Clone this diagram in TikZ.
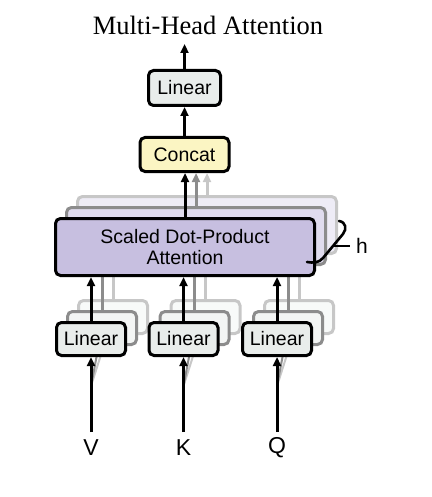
\documentclass[tikz,border=0pt]{standalone}
\usepackage{fontspec}
\setmainfont{Liberation Serif}
\setsansfont{Liberation Sans}
\usetikzlibrary{arrows.meta}

\definecolor{linfill}{HTML}{E9EDEB}
\definecolor{catfill}{HTML}{FBF5C3}
\definecolor{attfill}{HTML}{C7BFE0}

\begin{document}
\begin{tikzpicture}
[x=1pt,y=-1pt,%
  block/.style={shape=rectangle,rounded corners=5pt,draw,line width=3pt,inner sep=0pt,%
    font=\fontsize{19.5}{21.5}\sffamily},%
  linbox/.style={block,minimum width=69pt,minimum height=33pt},%
  flow/.style={line width=3pt,-{Triangle[length=9pt,width=8pt]}},%
  lbl/.style={font=\fontsize{23}{25}\sffamily,inner sep=0pt}]
\useasboundingbox (0,0) rectangle (431,497);

\node[font=\fontsize{26.5}{28}\selectfont\rmfamily] (title) at (208,25) {Multi-Head Attention};

% inputs
\foreach \inp/\xx/\txt in {v/91/V,k/183.5/K,q/277/Q} {
  \coordinate (src-\inp) at (\xx,432);
  \coordinate (fan-\inp) at (\xx,386);
  \node[lbl] (in-\inp) at (\xx,448) {\txt};
}

% h stacked heads, back to front
\foreach \k/\dx/\col/\shade in {3/22/black!22/30,2/11/black!45/55,1/0/black/100} {
  \foreach \inp/\xx in {v/91,k/183.5,q/277} {
    \ifnum\k>1
      \draw[\col,line width=2pt] (fan-\inp) -- (\xx+\dx,339-\dx);
    \fi
    \node[linbox,draw=\col,fill=linfill!\shade!white] (lin-\inp-\k) at (\xx+\dx,339-\dx)
      {\ifnum\k=1 Linear\fi};
  }
  \node[block,draw=\col,fill=attfill!\shade!white,minimum width=259pt,minimum height=57pt,align=center]
    (attn-\k) at (185+\dx,247-\dx) {\ifnum\k=1 Scaled Dot-Product\\Attention\fi};
  \foreach \inp in {v,k,q}
    \draw[flow,\col] (lin-\inp-\k.north) -- (lin-\inp-\k.north |- attn-\k.south);
}

\node[block,fill=catfill,minimum width=89pt,minimum height=34pt] (cat) at (184.5,154.5) {Concat};
\node[linbox,fill=linfill,minimum width=72pt,minimum height=35pt] (out) at (184.5,88) {Linear};
\coordinate (top) at (184.5,44);

\foreach \k/\col in {3/black!22,2/black!45,1/black}
  \draw[flow,\col] (attn-\k.north) -- (attn-\k.north |- cat.south);
\draw[flow] (cat) -- (out);
\draw[flow] (out) -- (top);
\foreach \inp in {v,k,q}
  \draw[flow] (src-\inp) -- (lin-\inp-1);

% brace for h heads
\node[lbl,font=\fontsize{21}{23}\sffamily,inner xsep=6pt] (heads) at (362,246) {h};
\coordinate (tick) at (332,246);
\draw[line width=2.6pt,line cap=round] (339,221) .. controls (346,222) and (347,229) .. (343,234)
  -- (323,258) .. controls (319,263) and (313,263) .. (307,262);
\draw[line width=2pt] (tick) -- (heads.west);
\end{tikzpicture}
\end{document}
